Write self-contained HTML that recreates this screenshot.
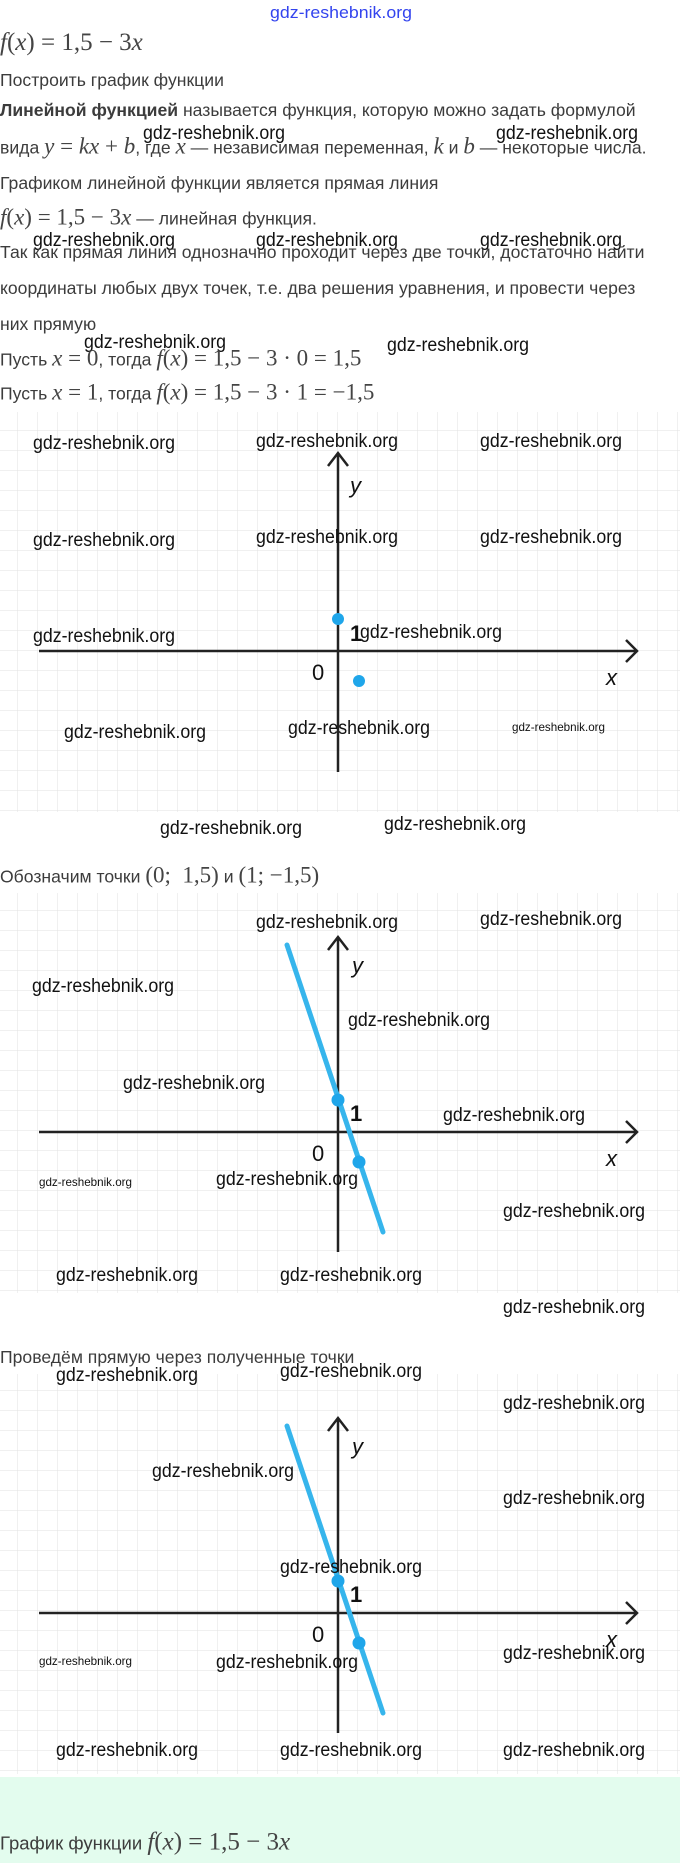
<!DOCTYPE html>
<html><head><meta charset="utf-8"><style>
body{margin:0;width:680px;height:1863px;position:relative;background:#fff;overflow:hidden;font-family:"Liberation Sans",sans-serif;color:#3c3c3c;font-size:17.6px}
.t{position:absolute;left:0;white-space:nowrap;line-height:22px;transform:translateY(-50%)}
.m{font-family:"Liberation Serif",serif;font-size:23px;color:#444}
.m i{font-style:italic}
svg{position:absolute;left:0;top:0}
.wm{font-family:"Liberation Sans Narrow","Liberation Sans",sans-serif;font-size:19px;fill:#111}
.ws{font-family:"Liberation Sans Narrow","Liberation Sans",sans-serif;font-size:12px;fill:#111}
.lab{font-family:"Liberation Sans",sans-serif;font-size:22px;fill:#111}
</style></head><body>
<svg width="680" height="1863" viewBox="0 0 680 1863">
<defs>
<pattern id="g" width="20" height="20" patternUnits="userSpaceOnUse" x="-2" y="11">
<path d="M20 0V20M0 20H20" stroke="#e2e2e2" stroke-width="1" fill="none"/>
</pattern>
</defs>
<rect x="0" y="412" width="680" height="400" fill="url(#g)"/>
<rect x="0" y="893" width="680" height="400" fill="url(#g)"/>
<rect x="0" y="1374" width="680" height="400" fill="url(#g)"/>
<rect x="0" y="1777" width="680" height="86" fill="#e3fcee"/>

<g stroke="#222" stroke-width="2.5" fill="none">
<path d="M338 453V772M328 466L338 453L348 466"/>
<path d="M39 651H637M626 640L637 651L626 662"/>
</g>
<circle cx="338" cy="619" r="6" fill="#1fa6ea"/>
<circle cx="359" cy="681" r="6" fill="#1fa6ea"/>
<text x="350" y="493" class="lab" font-style="italic">y</text>
<text x="350" y="641" class="lab" font-weight="bold">1</text>
<text x="312" y="680" class="lab">0</text>
<text x="606" y="685" class="lab" font-style="italic">x</text>

<g stroke="#222" stroke-width="2.5" fill="none">
<path d="M338 937V1252M328 950L338 937L348 950"/>
<path d="M39 1132H637M626 1121L637 1132L626 1143"/>
</g>
<line x1="287" y1="945" x2="383" y2="1232" stroke="#36b5ec" stroke-width="5" stroke-linecap="round"/>
<circle cx="338" cy="1100" r="6.5" fill="#1fa6ea"/>
<circle cx="359" cy="1162" r="6.5" fill="#1fa6ea"/>
<text x="352" y="973" class="lab" font-style="italic">y</text>
<text x="350" y="1121" class="lab" font-weight="bold">1</text>
<text x="312" y="1161" class="lab">0</text>
<text x="606" y="1166" class="lab" font-style="italic">x</text>

<g stroke="#222" stroke-width="2.5" fill="none">
<path d="M338 1418V1733M328 1431L338 1418L348 1431"/>
<path d="M39 1613H637M626 1602L637 1613L626 1624"/>
</g>
<line x1="287" y1="1426" x2="383" y2="1713" stroke="#36b5ec" stroke-width="5" stroke-linecap="round"/>
<circle cx="338" cy="1581" r="6.5" fill="#1fa6ea"/>
<circle cx="359" cy="1643" r="6.5" fill="#1fa6ea"/>
<text x="352" y="1454" class="lab" font-style="italic">y</text>
<text x="350" y="1602" class="lab" font-weight="bold">1</text>
<text x="312" y="1642" class="lab">0</text>
<text x="606" y="1647" class="lab" font-style="italic">x</text>

<text x="270" y="18" font-family="Liberation Sans Narrow,sans-serif" font-size="17" fill="#3344ee" textLength="142" lengthAdjust="spacingAndGlyphs">gdz-reshebnik.org</text>
<g class="wm">
<text x="143" y="139" textLength="142" lengthAdjust="spacingAndGlyphs">gdz-reshebnik.org</text>
<text x="496" y="139" textLength="142" lengthAdjust="spacingAndGlyphs">gdz-reshebnik.org</text>
<text x="33" y="246" textLength="142" lengthAdjust="spacingAndGlyphs">gdz-reshebnik.org</text>
<text x="256" y="246" textLength="142" lengthAdjust="spacingAndGlyphs">gdz-reshebnik.org</text>
<text x="480" y="246" textLength="142" lengthAdjust="spacingAndGlyphs">gdz-reshebnik.org</text>
<text x="84" y="348" textLength="142" lengthAdjust="spacingAndGlyphs">gdz-reshebnik.org</text>
<text x="387" y="351" textLength="142" lengthAdjust="spacingAndGlyphs">gdz-reshebnik.org</text>

<text x="33" y="449" textLength="142" lengthAdjust="spacingAndGlyphs">gdz-reshebnik.org</text>
<text x="256" y="447" textLength="142" lengthAdjust="spacingAndGlyphs">gdz-reshebnik.org</text>
<text x="480" y="447" textLength="142" lengthAdjust="spacingAndGlyphs">gdz-reshebnik.org</text>
<text x="33" y="546" textLength="142" lengthAdjust="spacingAndGlyphs">gdz-reshebnik.org</text>
<text x="256" y="543" textLength="142" lengthAdjust="spacingAndGlyphs">gdz-reshebnik.org</text>
<text x="480" y="543" textLength="142" lengthAdjust="spacingAndGlyphs">gdz-reshebnik.org</text>
<text x="33" y="642" textLength="142" lengthAdjust="spacingAndGlyphs">gdz-reshebnik.org</text>
<text x="360" y="638" textLength="142" lengthAdjust="spacingAndGlyphs">gdz-reshebnik.org</text>
<text x="64" y="738" textLength="142" lengthAdjust="spacingAndGlyphs">gdz-reshebnik.org</text>
<text x="288" y="734" textLength="142" lengthAdjust="spacingAndGlyphs">gdz-reshebnik.org</text>
<text x="160" y="834" textLength="142" lengthAdjust="spacingAndGlyphs">gdz-reshebnik.org</text>
<text x="384" y="830" textLength="142" lengthAdjust="spacingAndGlyphs">gdz-reshebnik.org</text>

<text x="256" y="928" textLength="142" lengthAdjust="spacingAndGlyphs">gdz-reshebnik.org</text>
<text x="480" y="925" textLength="142" lengthAdjust="spacingAndGlyphs">gdz-reshebnik.org</text>
<text x="32" y="992" textLength="142" lengthAdjust="spacingAndGlyphs">gdz-reshebnik.org</text>
<text x="348" y="1026" textLength="142" lengthAdjust="spacingAndGlyphs">gdz-reshebnik.org</text>
<text x="123" y="1089" textLength="142" lengthAdjust="spacingAndGlyphs">gdz-reshebnik.org</text>
<text x="443" y="1121" textLength="142" lengthAdjust="spacingAndGlyphs">gdz-reshebnik.org</text>
<text x="216" y="1185" textLength="142" lengthAdjust="spacingAndGlyphs">gdz-reshebnik.org</text>
<text x="503" y="1217" textLength="142" lengthAdjust="spacingAndGlyphs">gdz-reshebnik.org</text>
<text x="56" y="1281" textLength="142" lengthAdjust="spacingAndGlyphs">gdz-reshebnik.org</text>
<text x="280" y="1281" textLength="142" lengthAdjust="spacingAndGlyphs">gdz-reshebnik.org</text>
<text x="503" y="1313" textLength="142" lengthAdjust="spacingAndGlyphs">gdz-reshebnik.org</text>

<text x="56" y="1381" textLength="142" lengthAdjust="spacingAndGlyphs">gdz-reshebnik.org</text>
<text x="280" y="1377" textLength="142" lengthAdjust="spacingAndGlyphs">gdz-reshebnik.org</text>
<text x="503" y="1409" textLength="142" lengthAdjust="spacingAndGlyphs">gdz-reshebnik.org</text>
<text x="152" y="1477" textLength="142" lengthAdjust="spacingAndGlyphs">gdz-reshebnik.org</text>
<text x="503" y="1504" textLength="142" lengthAdjust="spacingAndGlyphs">gdz-reshebnik.org</text>
<text x="280" y="1573" textLength="142" lengthAdjust="spacingAndGlyphs">gdz-reshebnik.org</text>
<text x="216" y="1668" textLength="142" lengthAdjust="spacingAndGlyphs">gdz-reshebnik.org</text>
<text x="503" y="1659" textLength="142" lengthAdjust="spacingAndGlyphs">gdz-reshebnik.org</text>
<text x="56" y="1756" textLength="142" lengthAdjust="spacingAndGlyphs">gdz-reshebnik.org</text>
<text x="280" y="1756" textLength="142" lengthAdjust="spacingAndGlyphs">gdz-reshebnik.org</text>
<text x="503" y="1756" textLength="142" lengthAdjust="spacingAndGlyphs">gdz-reshebnik.org</text>
</g>
<g class="ws">
<text x="512" y="731" textLength="93" lengthAdjust="spacingAndGlyphs">gdz-reshebnik.org</text>
<text x="39" y="1186" textLength="93" lengthAdjust="spacingAndGlyphs">gdz-reshebnik.org</text>
<text x="39" y="1665" textLength="93" lengthAdjust="spacingAndGlyphs">gdz-reshebnik.org</text>
</g>
</svg>

<div class="t m" style="top:43px;font-size:25px"><i>f</i>(<i>x</i>) = 1,5 − 3<i>x</i></div>
<div class="t" style="top:80px">Построить график функции</div>
<div class="t" style="top:110px"><b>Линейной функцией</b> называется функция, которую можно задать формулой</div>
<div class="t" style="top:147px">вида <span class="m"><i>y</i> = <i>kx</i> + <i>b</i></span>, где <span class="m"><i>x</i></span> — независимая переменная, <span class="m"><i>k</i></span> и <span class="m"><i>b</i></span> — некоторые числа.</div>
<div class="t" style="top:183px">Графиком линейной функции является прямая линия</div>
<div class="t" style="top:218px"><span class="m"><i>f</i>(<i>x</i>) = 1,5 − 3<i>x</i></span> — линейная функция.</div>
<div class="t" style="top:252px">Так как прямая линия однозначно проходит через две точки, достаточно найти</div>
<div class="t" style="top:288px">координаты любых двух точек, т.е. два решения уравнения, и провести через</div>
<div class="t" style="top:324px">них прямую</div>
<div class="t" style="top:359px">Пусть <span class="m"><i>x</i> = 0</span>, тогда <span class="m"><i>f</i>(<i>x</i>) = 1,5 − 3 · 0 = 1,5</span></div>
<div class="t" style="top:393px">Пусть <span class="m"><i>x</i> = 1</span>, тогда <span class="m"><i>f</i>(<i>x</i>) = 1,5 − 3 · 1 = −1,5</span></div>
<div class="t" style="top:876px">Обозначим точки <span class="m">(0; &nbsp;1,5)</span> и <span class="m">(1; −1,5)</span></div>
<div class="t" style="top:1357px">Проведём прямую через полученные точки</div>
<div class="t" style="top:1843px;font-size:18.5px">График функции <span class="m" style="font-size:25px"><i>f</i>(<i>x</i>) = 1,5 − 3<i>x</i></span></div>
</body></html>
